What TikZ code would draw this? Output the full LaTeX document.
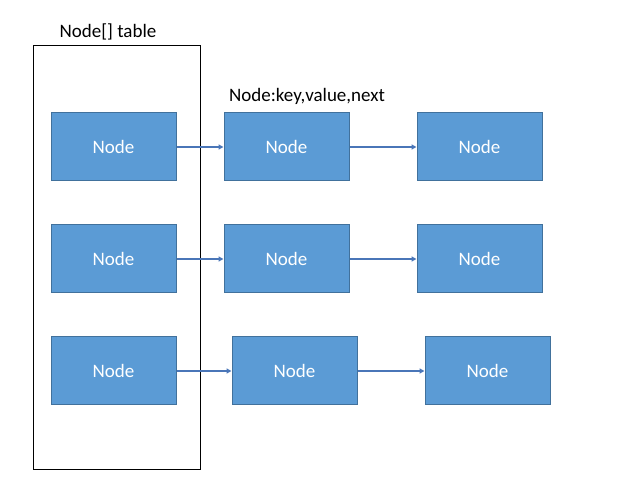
\documentclass[tikz,border=0pt]{standalone}
\usepackage{fontspec}
\setmainfont{Carlito}
\usetikzlibrary{arrows.meta}
\definecolor{nodefill}{HTML}{5B9BD5}
\definecolor{nodeedge}{HTML}{41719C}
\definecolor{arrowcol}{HTML}{4A76B8}
\begin{document}
\begin{tikzpicture}[x=1pt,y=-1pt,
  listnode/.style={draw=nodeedge,line width=1pt,fill=nodefill,minimum width=125pt,minimum height=68pt,inner sep=0pt,text=white,font=\fontsize{19}{22}\selectfont},
  link/.style={draw=arrowcol,line width=1.5pt,-{Triangle[length=5pt,width=5pt]}},
  lbl/.style={font=\fontsize{19}{22}\selectfont,inner sep=0pt}]
\useasboundingbox (0,0) rectangle (627,494);
\node[draw=black,line width=1pt,minimum width=167pt,minimum height=423pt,inner sep=0pt] (table) at (116.5,257.5) {};
\node[lbl] (tlabel) at (108,32) {Node[] table};
\node[lbl] (nlabel) at (307,96) {Node:key,value,next};
\node[listnode] (a1) at (113.5,147) {Node};
\node[listnode] (b1) at (286.5,147) {Node};
\node[listnode] (c1) at (479.5,147) {Node};
\node[listnode] (a2) at (113.5,259) {Node};
\node[listnode] (b2) at (286.5,259) {Node};
\node[listnode] (c2) at (479.5,259) {Node};
\node[listnode] (a3) at (113.5,371) {Node};
\node[listnode] (b3) at (294.5,371) {Node};
\node[listnode] (c3) at (487.5,371) {Node};
\draw[link] (a1) -- (b1);
\draw[link] (b1) -- (c1);
\draw[link] (a2) -- (b2);
\draw[link] (b2) -- (c2);
\draw[link] (a3) -- (b3);
\draw[link] (b3) -- (c3);
\end{tikzpicture}
\end{document}
